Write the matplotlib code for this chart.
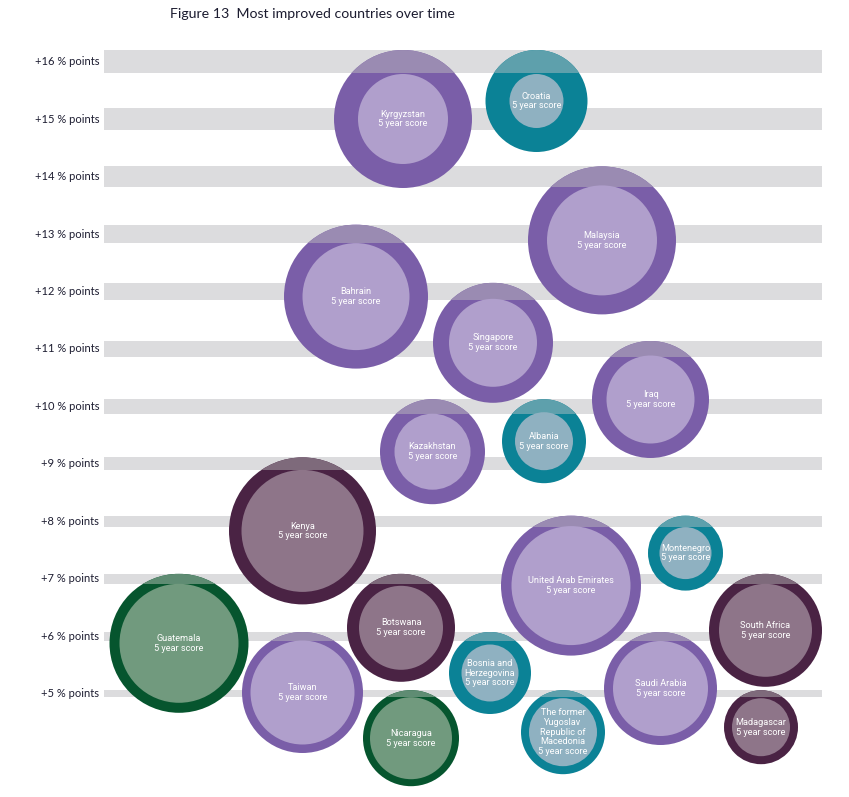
import matplotlib.pyplot as plt
from matplotlib.patches import Circle, Rectangle

# improvement in % points (level where each bubble's top sits)
countries = ["Kyrgyzstan", "Croatia", "Malaysia", "Bahrain", "Singapore", "Iraq",
             "Kazakhstan", "Albania", "Kenya", "United Arab Emirates", "Montenegro",
             "Guatemala", "Botswana", "South Africa", "Taiwan", "Bosnia and\nHerzegovina",
             "Saudi Arabia", "Nicaragua", "The former\nYugoslav\nRepublic of\nMacedonia",
             "Madagascar"]
improvement = [16, 16, 14, 13, 12, 11, 10, 10, 9, 8, 8, 7, 7, 7, 6, 6, 6, 5, 5, 5]
# bubble sizes: current score (outer) and 5 year score (inner)
current_score = [69, 51, 74, 72, 60, 58.5, 52.5, 42, 73.5, 70, 37.5, 69.5, 54, 56.5,
                 60.5, 41, 56.5, 48, 42, 37]
five_year_score = [45, 27, 55, 53.5, 44, 44, 38, 29, 61, 59.5, 26, 59.5, 42, 46.5,
                   52, 28.5, 47.5, 41, 34, 29]
region = ["asia", "europe", "asia", "asia", "asia", "asia", "asia", "europe", "africa",
          "asia", "europe", "americas", "africa", "africa", "asia", "europe", "asia",
          "americas", "europe", "africa"]
levels = list(range(5, 17))

# layout: horizontal slot of each bubble (pixels from the left of the figure)
x_slot = [403, 536.5, 602, 356, 493, 650.5, 432.5, 544, 302.5, 571, 685.5, 179, 401,
          765.5, 302.5, 490, 660.5, 411, 563, 761]

colors = {
    "asia": ("#7a5ea8", "#b09fcc", "#9a8bb2"),
    "europe": ("#0b8296", "#8fb1c1", "#5ea0ac"),
    "africa": ("#4a2344", "#8e7589", "#7e6a7b"),
    "americas": ("#06552e", "#719a7e", "#5f8c73"),
}

U = 58.2  # pixels per % point
W, H = 849, 797
fig = plt.figure(figsize=(W / 100, H / 100), dpi=100)
ax = fig.add_axes([0, 0, 1, 1])
x0 = 104 / U
ax.set_xlim(-x0, (W - 104) / U)
ax.set_ylim(16 - (H - 50) / U, 16 + 50 / U)
ax.axis("off")

band_w = (822 - 104) / U


def band_h(v):
    return 1.45 * v / U


for v in levels:
    ax.add_patch(Rectangle((0, v - band_h(v)), band_w, band_h(v), color="#dcdcde",
                           lw=0, zorder=1))
    ax.text(-5 / U, v - band_h(v) / 2, f"+{v} % points", ha="right", va="center",
            fontsize=8, family=["Lato", "DejaVu Sans"], color="#1c1c30")

for name, imp, cur, old, reg, xs in zip(countries, improvement, current_score,
                                         five_year_score, region, x_slot):
    outer_c, inner_c, cap_c = colors[reg]
    r_out = cur / U
    r_in = old / U
    cx = xs / U - x0
    cy = imp - r_out
    outer = Circle((cx, cy), r_out, color=outer_c, lw=0, zorder=2)
    ax.add_patch(outer)
    cap = Rectangle((cx - r_out, imp - band_h(imp)), 2 * r_out, band_h(imp),
                    color=cap_c, lw=0, zorder=3)
    ax.add_patch(cap)
    cap.set_clip_path(outer)
    ax.add_patch(Circle((cx, cy), r_in, color=inner_c, lw=0, zorder=4))
    ax.text(cx, cy, name + "\n5 year score", ha="center", va="center", color="white",
            fontsize=6.6, linespacing=1.1, zorder=5,
            family=["Roboto", "DejaVu Sans"])

fig.text(170 / W, 1 - 14 / H, "Figure 13  Most improved countries over time",
         ha="left", va="center", fontsize=10.2, family=["Lato", "DejaVu Sans"],
         color="#1c1c30")

fig.savefig("out.png", dpi=100)
